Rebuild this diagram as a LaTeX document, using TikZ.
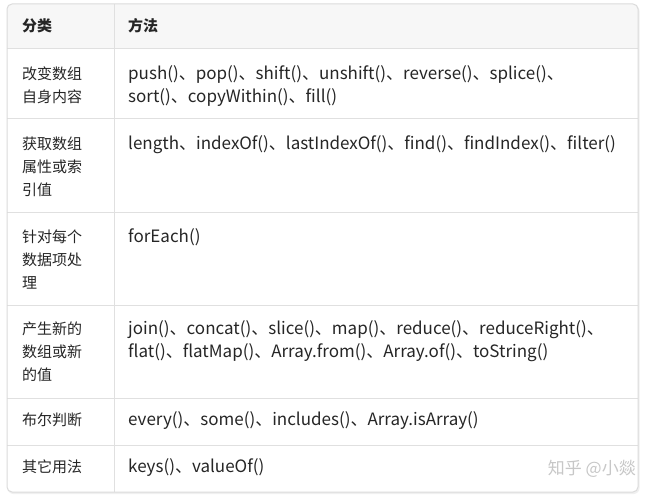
\documentclass[tikz,border=0pt]{standalone}
\usepackage{fontspec}
\setmainfont{Noto Sans CJK SC}
\begin{document}
\begin{tikzpicture}[x=1pt,y=-1pt,
  cell/.style={anchor=north west,inner sep=0pt,align=left,font=\fontsize{15}{23}\selectfont,text=black!85},
  mcell/.style={cell,font=\fontsize{17}{23}\selectfont},
  head/.style={cell,font=\fontsize{15}{23}\selectfont\bfseries},
  grid/.style={draw=black!12,line width=1pt}]
\useasboundingbox (0,0) rectangle (648,500);
\fill[white] (0,0) rectangle (648,500);
\fill[black!6,rounded corners=6pt] (7.5,5) rectangle (639.5,494);
\fill[white,rounded corners=5pt] (7,4) rectangle (638,492);
\begin{scope}
\clip[rounded corners=5pt] (7,4) rectangle (638,492);
\fill[black!3] (7,4) rectangle (638,49);
\draw[grid] (7,49) -- (638,49);
\draw[grid] (7,119) -- (638,119);
\draw[grid] (7,212) -- (638,212);
\draw[grid] (7,305) -- (638,305);
\draw[grid] (7,398) -- (638,398);
\draw[grid] (7,445) -- (638,445);
\draw[grid] (114,4) -- (114,492);
\end{scope}
\draw[draw=black!14,line width=1pt,rounded corners=5pt] (7,4) rectangle (638,492);
\node[head] (h1) at (22,18) {分类};
\node[head] (h2) at (128,18) {方法};
\node[cell] (a1) at (22,67) {改变数组\\自身内容};
\node[mcell] (b1) at (128,65) {push()、pop()、shift()、unshift()、reverse()、splice()、\\sort()、copyWithin()、fill()};
\node[cell] (a2) at (22,137) {获取数组\\属性或索\\引值};
\node[mcell] (b2) at (128,135) {length、indexOf()、lastIndexOf()、find()、findIndex()、filter()};
\node[cell] (a3) at (22,230) {针对每个\\数据项处\\理};
\node[mcell] (b3) at (128,228) {forEach()};
\node[cell] (a4) at (22,322) {产生新的\\数组或新\\的值};
\node[mcell] (b4) at (128,320) {join()、concat()、slice()、map()、reduce()、reduceRight()、\\flat()、flatMap()、Array.from()、Array.of()、toString()};
\node[cell] (a5) at (22,413) {布尔判断};
\node[mcell] (b5) at (128,411) {every()、some()、includes()、Array.isArray()};
\node[cell] (a6) at (22,460) {其它用法};
\node[mcell] (b6) at (128,458) {keys()、valueOf()};
\node[anchor=east,inner sep=0pt,font=\fontsize{17}{18}\selectfont,text=black!22] (wm) at (636,469) {知乎 @小燚};
\end{tikzpicture}
\end{document}
